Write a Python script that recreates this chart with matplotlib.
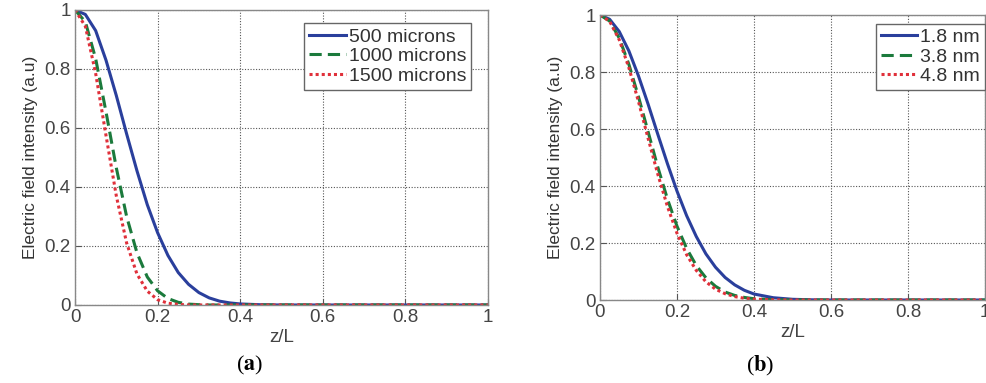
import matplotlib
matplotlib.use("Agg")
import matplotlib.pyplot as plt

# ---- data ----
z = [0, 0.025, 0.05, 0.075, 0.1, 0.125, 0.15, 0.175, 0.2, 0.225, 0.25, 0.275,
     0.3, 0.325, 0.35, 0.375, 0.4, 0.45, 0.5, 0.55, 0.6, 1.0]

a_labels = ["500 microns", "1000 microns", "1500 microns"]
a_500 = [1, 0.985, 0.93, 0.83, 0.71, 0.58, 0.455, 0.34, 0.245, 0.168, 0.11, 0.07,
         0.042, 0.024, 0.013, 0.007, 0.0035, 0.0008, 0, 0, 0, 0]
a_1000 = [1, 0.96, 0.835, 0.655, 0.465, 0.300, 0.177, 0.095, 0.048, 0.022, 0.009, 0.003,
          0.001, 0, 0, 0, 0, 0, 0, 0, 0, 0]
a_1500 = [1, 0.945, 0.785, 0.575, 0.37, 0.21, 0.105, 0.047, 0.018, 0.006, 0.002, 0,
          0, 0, 0, 0, 0, 0, 0, 0, 0, 0]

b_labels = ["1.8 nm", "3.8 nm", "4.8 nm"]
b_18 = [1, 0.985, 0.942, 0.874, 0.786, 0.687, 0.582, 0.479, 0.382, 0.296, 0.223, 0.162,
        0.115, 0.079, 0.053, 0.034, 0.021, 0.008, 0.0025, 0.0007, 0, 0]
b_38 = [1, 0.979, 0.919, 0.827, 0.713, 0.590, 0.467, 0.355, 0.259, 0.181, 0.121, 0.078,
        0.048, 0.028, 0.016, 0.009, 0.0045, 0.001, 0, 0, 0, 0]
b_48 = [1, 0.978, 0.913, 0.815, 0.696, 0.567, 0.442, 0.329, 0.234, 0.159, 0.104, 0.064,
        0.038, 0.022, 0.012, 0.006, 0.003, 0.0006, 0, 0, 0, 0]

ticks = [0, 0.2, 0.4, 0.6, 0.8, 1]
tick_labels = ["0", "0.2", "0.4", "0.6", "0.8", "1"]

colors = ["#2a3f9c", "#1b7a3c", "#e0303a"]
styles = ["-", (0, (4, 2)), (0, (1, 1.0))]

plt.rcParams["font.family"] = ["Liberation Sans", "DejaVu Sans"]
plt.rcParams["mathtext.fontset"] = "stix"

fig = plt.figure(figsize=(9.87, 3.83), dpi=100)
ax1 = fig.add_axes([0.076, 0.2037, 0.4184, 0.7702])
ax2 = fig.add_axes([0.6079, 0.2167, 0.3901, 0.7441])


def style_axes(ax, series, labels, leg_anchor):
    for ys, lab, c, ls in zip(series, labels, colors, styles):
        ax.plot(z, ys, color=c, linestyle=ls, linewidth=2.2, label=lab)
    ax.set_xlim(0, 1)
    ax.set_ylim(0, 1)
    ax.set_xticks(ticks)
    ax.set_xticklabels(tick_labels)
    ax.set_yticks(ticks)
    ax.set_yticklabels(tick_labels)
    ax.tick_params(direction="in", length=4, color="#555555", labelsize=13.5,
                   labelcolor="#444444", pad=3)
    ax.grid(True, linestyle=(0, (1, 1.5)), color="#555555", linewidth=0.8)
    for s in ax.spines.values():
        s.set_color("#888888")
        s.set_linewidth(1.0)
    ax.set_xlabel("z/L", fontsize=13.5, color="#444444", labelpad=2)
    ax.set_ylabel("Electric field intensity (a.u)", fontsize=12.5, color="#333333",
                  labelpad=5)
    leg = ax.legend(loc="upper right", bbox_to_anchor=leg_anchor, fontsize=14,
                    handlelength=1.9, handletextpad=0.15, borderpad=0.25,
                    labelspacing=0.1, fancybox=False, framealpha=1,
                    edgecolor="#666666", borderaxespad=0)
    leg.get_frame().set_linewidth(1.0)
    for t in leg.get_texts():
        t.set_color("#333333")


style_axes(ax1, [a_500, a_1000, a_1500], a_labels, (0.96, 0.955))
style_axes(ax2, [b_18, b_38, b_48], b_labels, (1.0, 0.97))

fig.text(0.253, 0.045, r"($\mathbf{a}$)", fontsize=16, ha="center", va="center",
         family=["Liberation Serif"])
fig.text(0.770, 0.045, r"($\mathbf{b}$)", fontsize=16, ha="center", va="center",
         family=["Liberation Serif"])

fig.savefig("out.png", dpi=100)
